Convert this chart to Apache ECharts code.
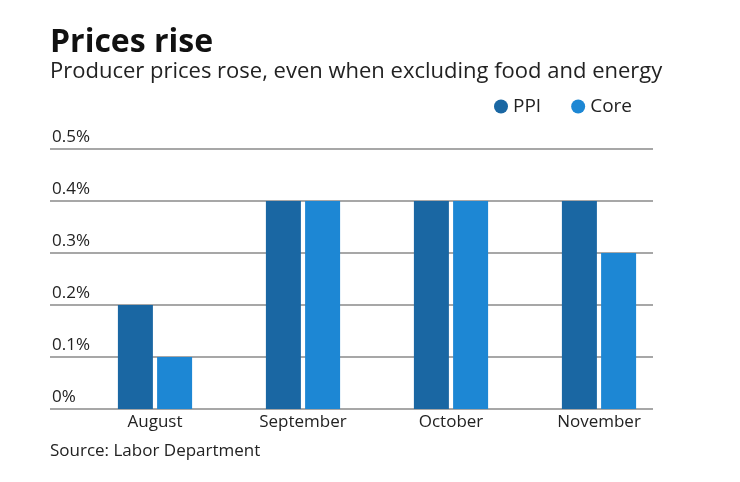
<!DOCTYPE html>
<html>
<head>
<meta charset="utf-8">
<script src="https://cdn.jsdelivr.net/npm/echarts@6/dist/echarts.min.js"></script>
<style>html,body{margin:0;padding:0;background:#fff}#c{width:740px;height:482px}</style>
</head>
<body>
<div id="c"></div>
<script>
const categories = ['August', 'September', 'October', 'November'];
const ppi = [0.2, 0.4, 0.4, 0.4];
const core = [0.1, 0.4, 0.4, 0.3];
const yTicks = [0, 0.1, 0.2, 0.3, 0.4, 0.5];

const FONT = '"Open Sans", Lato, sans-serif';
const chart = echarts.init(document.getElementById('c'));
chart.setOption({
  backgroundColor: '#fff',
  animation: false,
  title: [
    { text: 'Prices rise', left: 45, top: 22, textStyle: { fontFamily: FONT, fontSize: 32, fontWeight: 'bold', color: '#111' } },
    { text: 'Producer prices rose, even when excluding food and energy', left: 45, top: 56, textStyle: { fontFamily: FONT, fontSize: 22, fontWeight: 'normal', color: '#222' } },
    { text: 'Source: Labor Department', left: 45, top: 438, textStyle: { fontFamily: FONT, fontSize: 17, fontWeight: 'normal', color: '#222' } }
  ],
  legend: {
    left: 489, top: 92, itemWidth: 14, itemHeight: 14, itemGap: 30, icon: 'circle',
    textStyle: { fontFamily: FONT, fontSize: 19, color: '#222' },
    data: ['PPI', 'Core']
  },
  grid: [
    { left: 50, right: 87, top: 149, bottom: 73 },
    { left: 81, right: 67, top: 149, bottom: 73 }
  ],
  xAxis: [
    { gridIndex: 0, type: 'category', data: categories, show: false },
    { gridIndex: 1, type: 'category', data: categories,
      axisLine: { show: false }, axisTick: { show: false },
      axisLabel: { margin: 5, fontFamily: FONT, fontSize: 17, color: '#222' } }
  ],
  yAxis: [
    { gridIndex: 0, type: 'value', min: 0, max: 0.5, interval: 0.1,
      axisLine: { show: false }, axisTick: { show: false },
      splitLine: { show: true, lineStyle: { color: '#8a8a8a', width: 1.5 } },
      axisLabel: { inside: true, margin: 2, verticalAlign: 'bottom', padding: [0, 0, 3, 0],
        fontFamily: FONT, fontSize: 17, color: '#222',
        formatter: v => { const t = yTicks.find(x => Math.abs(x - v) < 1e-9); return (t === 0 ? '0' : t.toFixed(1)) + '%'; } } },
    { gridIndex: 1, type: 'value', min: 0, max: 0.5, interval: 0.1, show: false, splitLine: { show: false } }
  ],
  series: [
    { name: 'PPI', type: 'bar', xAxisIndex: 1, yAxisIndex: 1, data: ppi, barWidth: 35, barGap: '12%', itemStyle: { color: '#1a67a3' }, z: 3 },
    { name: 'Core', type: 'bar', xAxisIndex: 1, yAxisIndex: 1, data: core, barWidth: 35, barGap: '12%', itemStyle: { color: '#1d87d4' }, z: 3 }
  ]
});
</script>
</body>
</html>
